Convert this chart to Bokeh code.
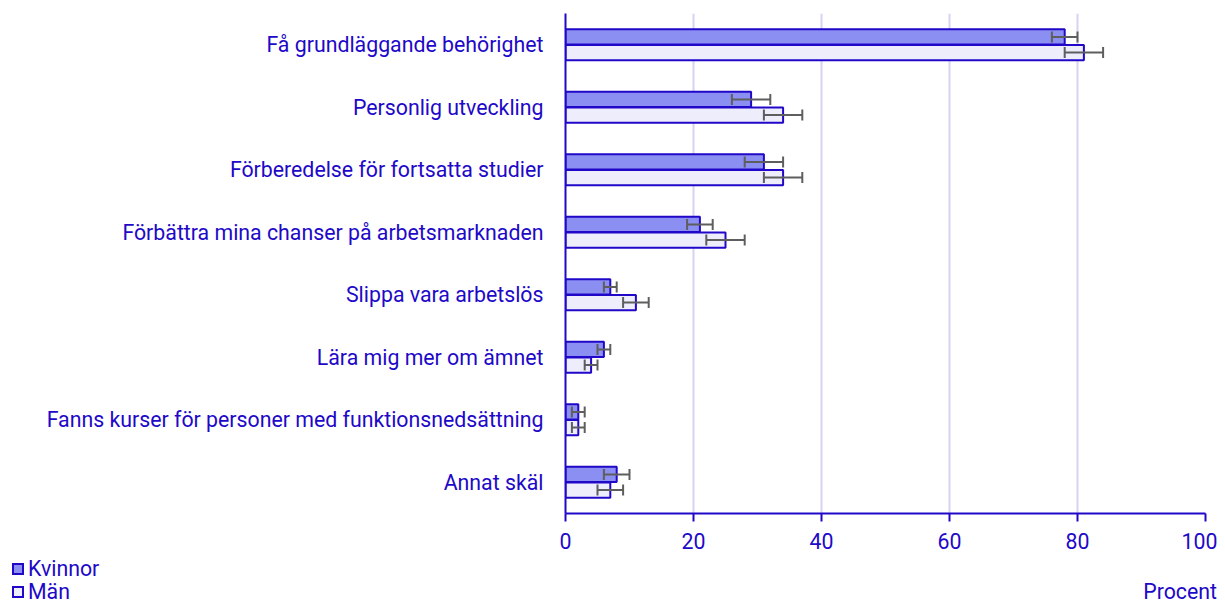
from bokeh.plotting import figure
from bokeh.models import (ColumnDataSource, FactorRange, Range1d, Whisker, TeeHead,
                          FixedTicker, Div)
from bokeh.layouts import column
from bokeh.transform import dodge
from bokeh.embed import file_html
from bokeh.resources import INLINE

categories = [
    "Få grundläggande behörighet",
    "Personlig utveckling",
    "Förberedelse för fortsatta studier",
    "Förbättra mina chanser på arbetsmarknaden",
    "Slippa vara arbetslös",
    "Lära mig mer om ämnet",
    "Fanns kurser för personer med funktionsnedsättning",
    "Annat skäl",
]
kvinnor = [78, 29, 31, 21, 7, 6, 2, 8]
kvinnor_lo = [76, 26, 28, 19, 6, 5, 1, 6]
kvinnor_hi = [80, 32, 34, 23, 8, 7, 3, 10]
man = [81, 34, 34, 25, 11, 4, 2, 7]
man_lo = [78, 31, 31, 22, 9, 3, 1, 5]
man_hi = [84, 37, 37, 28, 13, 5, 3, 9]
x_ticks = [0, 20, 40, 60, 80, 100]
series_names = ["Kvinnor", "Män"]
axis_title = "Procent"

BLUE = "#2108c8"
FILL_K = "#8b8ff2"
FILL_M = "#ededfc"
ERR = "#5e5e5e"
FONT = "Roboto"
FS = "21.3px"

src = ColumnDataSource(dict(cat=categories, k=kvinnor, klo=kvinnor_lo, khi=kvinnor_hi,
                            m=man, mlo=man_lo, mhi=man_hi))

W = 1217
H1 = 557
H2 = 46
p = figure(width=W, height=H1, output_backend="svg", toolbar_location=None,
           y_range=FactorRange(factors=categories[::-1], range_padding=0),
           x_range=Range1d(0, 100),
           frame_width=640, frame_height=500,
           min_border_left=565, min_border_right=12, min_border_top=13,
           min_border_bottom=H1 - 513)
p.outline_line_color = None

rk = p.hbar(y=dodge("cat", 0.125, range=p.y_range), right="k", left=0, height=0.245,
            source=src, fill_color=FILL_K, line_color=BLUE, line_width=2)
rm = p.hbar(y=dodge("cat", -0.125, range=p.y_range), right="m", left=0, height=0.245,
            source=src, fill_color=FILL_M, line_color=BLUE, line_width=2)

for off, lo, hi in [(0.125, "klo", "khi"), (-0.125, "mlo", "mhi")]:
    w = Whisker(source=src, base=dodge("cat", off, range=p.y_range), lower=lo, upper=hi,
                dimension="width", line_color=ERR, line_width=2, level="overlay",
                lower_head=TeeHead(size=11, line_color=ERR, line_width=2),
                upper_head=TeeHead(size=11, line_color=ERR, line_width=2))
    p.add_layout(w)

p.xgrid.grid_line_color = "#d6d3f2"
p.xgrid.grid_line_width = 2
p.xgrid.ticker = FixedTicker(ticks=x_ticks)
p.ygrid.grid_line_color = None

p.xaxis.ticker = FixedTicker(ticks=x_ticks)
p.xaxis.axis_line_color = BLUE
p.xaxis.axis_line_width = 2
p.xaxis.major_tick_line_color = BLUE
p.xaxis.major_tick_line_width = 2
p.xaxis.major_tick_out = 8
p.xaxis.major_tick_in = 0
p.xaxis.minor_tick_line_color = None
p.xaxis.major_label_standoff = 11
p.xaxis.major_label_text_font = FONT
p.xaxis.major_label_text_font_size = FS
p.xaxis.major_label_text_color = BLUE

p.yaxis.axis_line_color = BLUE
p.yaxis.axis_line_width = 2
p.yaxis.major_tick_line_color = None
p.yaxis.major_tick_out = 0
p.yaxis.major_tick_in = 0
p.yaxis.minor_tick_line_color = None
p.yaxis.major_label_standoff = 22
p.yaxis.major_label_text_font = FONT
p.yaxis.major_label_text_font_size = FS
p.yaxis.major_label_text_color = BLUE

# bottom strip: legend and axis title (HTML text)
def swatch(fill):
    return (f'<span style="display:inline-block;box-sizing:border-box;width:12px;height:12px;'
            f'border:2px solid {BLUE};background:{fill};margin-right:4px;"></span>')

html = (
    f'<div style="position:relative;width:{W}px;height:{H2}px;font-family:{FONT};'
    f'font-size:{FS};color:{BLUE};line-height:22px;white-space:nowrap;">'
    f'<div style="position:absolute;left:12px;top:1px;display:flex;align-items:center;">'
    f'{swatch(FILL_K)}<span>{series_names[0]}</span></div>'
    f'<div style="position:absolute;left:12px;top:24px;display:flex;align-items:center;">'
    f'{swatch(FILL_M)}<span>{series_names[1]}</span></div>'
    f'<div style="position:absolute;right:0px;top:24px;">{axis_title}</div>'
    f'</div>'
)
bottom = Div(text=html, width=W, height=H2, margin=0)

layout = column(p, bottom, spacing=0)
open("out.html", "w").write(file_html(layout, INLINE))
